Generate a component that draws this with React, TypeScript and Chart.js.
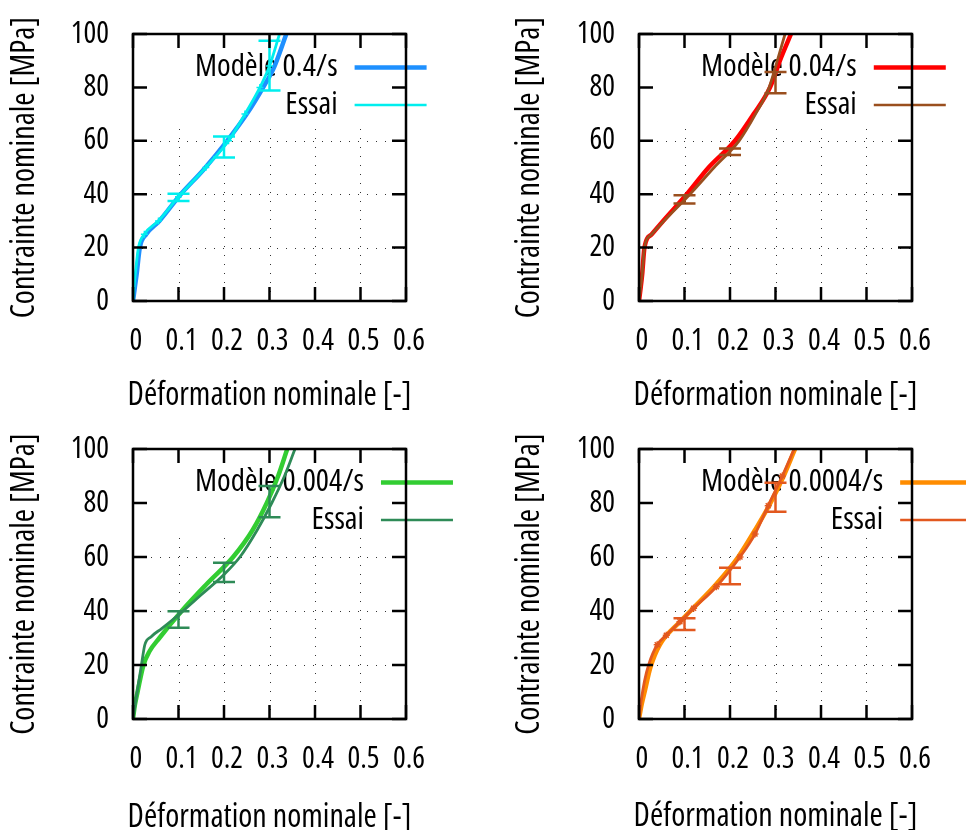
import React, { useEffect, useRef } from 'react';
import { Chart, registerables } from 'chart.js';

Chart.register(...registerables);

const FAMILY = "'Open Sans', 'DejaVu Sans', sans-serif";
const STRETCH = 'condensed';
const TICK_SIZE = 30;
const TITLE_SIZE = 32;
const KEY_SIZE = 31;

const xTickLabels = ['0', '0.1', '0.2', '0.3', '0.4', '0.5', '0.6'];
const yTickLabels = ['0', '20', '40', '60', '80', '100'];
const xTitle = 'Déformation nominale [-]';
const yTitle = 'Contrainte nominale [MPa]';
const essaiLabel = 'Essai';

// Panel 1 : 0.4/s
const model1Label = 'Modèle 0.4/s';
const model1X = [0, 0.004, 0.008, 0.015, 0.029, 0.058, 0.105, 0.154, 0.207, 0.25, 0.288, 0.31, 0.337];
const model1Y = [0, 5, 10, 20, 25, 30, 40, 49, 60, 70, 80.6, 87.5, 100];
const essai1X = [0, 0.002, 0.005, 0.012, 0.025, 0.056, 0.1, 0.16, 0.21, 0.246, 0.279, 0.3, 0.322];
const essai1Y = [0, 5, 10, 20, 25, 30, 39, 50, 60, 70, 80, 88, 100];
const err1X = [0.1, 0.2, 0.3];
const err1Low = [37.5, 53.7, 78.8];
const err1High = [40.2, 61.6, 97.5];

// Panel 2 : 0.04/s
const model2Label = 'Modèle 0.04/s';
const model2X = [0, 0.003, 0.007, 0.012, 0.028, 0.053, 0.105, 0.153, 0.211, 0.252, 0.288, 0.312, 0.334];
const model2Y = [0, 4, 10, 20, 25, 30, 40, 50, 60, 70, 80, 91, 100];
const essai2X = [0, 0.003, 0.007, 0.012, 0.028, 0.055, 0.112, 0.165, 0.22, 0.256, 0.286, 0.304, 0.321];
const essai2Y = [0, 4, 10, 20, 25, 30, 40, 50, 60, 70, 80, 90, 100];
const err2X = [0.1, 0.2, 0.3];
const err2Low = [36.5, 54.7, 77.8];
const err2High = [39.6, 57.1, 85.8];

// Panel 3 : 0.004/s
const model3Label = 'Modèle 0.004/s';
const model3X = [0, 0.004, 0.01, 0.023, 0.036, 0.058, 0.107, 0.162, 0.22, 0.263, 0.294, 0.319, 0.339];
const model3Y = [0, 5, 10, 20, 25, 30, 40, 50, 60, 70, 80, 90, 100];
const essai3X = [0, 0.01, 0.019, 0.026, 0.04, 0.063, 0.103, 0.15, 0.2, 0.235, 0.273, 0.305, 0.333, 0.356];
const essai3Y = [0, 11, 20.5, 27.5, 30.5, 33.5, 39, 46, 53.5, 60, 70, 80, 90, 100];
const err3X = [0.1, 0.2, 0.3];
const err3Low = [33.8, 50.7, 74.7];
const err3High = [39.9, 57.9, 86.3];

// Panel 4 : 0.0004/s
const model4Label = 'Modèle 0.0004/s';
const model4X = [0, 0.006, 0.013, 0.025, 0.046, 0.09, 0.113, 0.17, 0.218, 0.255, 0.289, 0.318, 0.343];
const model4Y = [0, 5.5, 10.5, 19, 27.5, 36, 40, 50, 60, 70, 80, 90, 100];
const essai4X = [0, 0.005, 0.012, 0.022, 0.04, 0.06, 0.09, 0.12, 0.17, 0.222, 0.255, 0.284, 0.315, 0.341];
const essai4Y = [0, 7, 14, 20.5, 27.5, 31, 36, 41, 49, 60, 68.5, 79, 90, 100];
const err4X = [0.1, 0.2, 0.3];
const err4Low = [33, 49.9, 76.8];
const err4High = [37.3, 56, 87.5];

type Panel = {
  left: number; top: number;
  yAxisWidth: number; xAxisHeight: number; padTop: number; padRight: number;
  yTitleX: number; xTitleGap: number;
  modelLabel: string; modelX: number[]; modelY: number[];
  essaiX: number[]; essaiY: number[];
  errX: number[]; errLow: number[]; errHigh: number[];
  modelColor: string; essaiColor: string;
  essaiMark: string | null;
};

const panels: Panel[] = [
  { left: 0, top: 0, yAxisWidth: 133, xAxisHeight: 114, padTop: 29, padRight: 77, yTitleX: 25, xTitleGap: 95,
    modelLabel: model1Label, modelX: model1X, modelY: model1Y, essaiX: essai1X, essaiY: essai1Y,
    errX: err1X, errLow: err1Low, errHigh: err1High, modelColor: '#1e90ff', essaiColor: '#00eeee', essaiMark: 'cross' },
  { left: 483, top: 0, yAxisWidth: 156, xAxisHeight: 114, padTop: 29, padRight: 54, yTitleX: 47, xTitleGap: 95,
    modelLabel: model2Label, modelX: model2X, modelY: model2Y, essaiX: essai2X, essaiY: essai2Y,
    errX: err2X, errLow: err2Low, errHigh: err2High, modelColor: '#ff0000', essaiColor: '#9a4f1e', essaiMark: null },
  { left: 0, top: 415, yAxisWidth: 133, xAxisHeight: 111, padTop: 31, padRight: 77, yTitleX: 25, xTitleGap: 99,
    modelLabel: model3Label, modelX: model3X, modelY: model3Y, essaiX: essai3X, essaiY: essai3Y,
    errX: err3X, errLow: err3Low, errHigh: err3High, modelColor: '#32cd32', essaiColor: '#2e8b57', essaiMark: null },
  { left: 483, top: 415, yAxisWidth: 156, xAxisHeight: 111, padTop: 32, padRight: 54, yTitleX: 47, xTitleGap: 98,
    modelLabel: model4Label, modelX: model4X, modelY: model4Y, essaiX: essai4X, essaiY: essai4Y,
    errX: err4X, errLow: err4Low, errHigh: err4High, modelColor: '#ff8c00', essaiColor: '#e2581f', essaiMark: 'star' },
];

const toPoints = (xs: number[], ys: number[]) => xs.map((x, i) => ({ x, y: ys[i] }));
const cssFont = (size: number) => `${STRETCH} ${size}px ${FAMILY}`;

function makeFramePlugin(p: Panel) {
  return {
    id: 'gnuplotFrame',
    beforeDatasetsDraw(chart: any) {
      const { ctx, chartArea: a, scales } = chart;
      const xs = scales.x, ys = scales.y;
      ctx.save();
      // dotted grid
      ctx.strokeStyle = 'rgba(0,0,0,0.8)';
      ctx.lineWidth = 1;
      ctx.setLineDash([1, 8]);
      xs.ticks.forEach((t: any) => {
        if (t.value <= xs.min || t.value >= xs.max) return;
        const px = Math.round(xs.getPixelForValue(t.value)) + 0.5;
        ctx.beginPath(); ctx.moveTo(px, a.bottom); ctx.lineTo(px, a.top); ctx.stroke();
      });
      ys.ticks.forEach((t: any) => {
        if (t.value <= ys.min || t.value >= ys.max) return;
        const py = Math.round(ys.getPixelForValue(t.value)) + 0.5;
        ctx.beginPath(); ctx.moveTo(a.left, py); ctx.lineTo(a.right, py); ctx.stroke();
      });
      ctx.setLineDash([]);
      // legend (opaque key)
      ctx.font = cssFont(KEY_SIZE);
      const labels = [p.modelLabel, essaiLabel];
      const maxW = Math.max(...labels.map((l) => ctx.measureText(l).width));
      const textRight = a.left + 62 + maxW;
      const rows = [a.top + 33.5, a.top + 71];
      const s0 = textRight + 17, s1 = textRight + 89;
      ctx.fillStyle = '#ffffff';
      ctx.fillRect(a.left + 2, a.top + 2, s1 + 4 - a.left - 2, rows[1] + 17 - a.top - 2);
      ctx.fillStyle = '#000000';
      ctx.textAlign = 'right';
      ctx.textBaseline = 'middle';
      ctx.fillText(labels[0], textRight, rows[0]);
      ctx.fillText(labels[1], textRight, rows[1]);
      ctx.lineCap = 'butt';
      ctx.strokeStyle = p.modelColor; ctx.lineWidth = 4.5;
      ctx.beginPath(); ctx.moveTo(s0, rows[0]); ctx.lineTo(s1, rows[0]); ctx.stroke();
      ctx.strokeStyle = p.essaiColor; ctx.lineWidth = 2.7;
      ctx.beginPath(); ctx.moveTo(s0, rows[1]); ctx.lineTo(s1, rows[1]); ctx.stroke();
      ctx.restore();
    },
    afterDatasetsDraw(chart: any) {
      const { ctx, chartArea: a, scales } = chart;
      const xs = scales.x, ys = scales.y;
      ctx.save();
      // error bars
      ctx.strokeStyle = p.essaiColor;
      ctx.lineWidth = 2.5;
      p.errX.forEach((ex, i) => {
        const px = xs.getPixelForValue(ex);
        const pl = ys.getPixelForValue(p.errLow[i]);
        const ph = ys.getPixelForValue(p.errHigh[i]);
        ctx.beginPath();
        ctx.moveTo(px, pl); ctx.lineTo(px, ph);
        ctx.moveTo(px - 11, pl); ctx.lineTo(px + 11, pl);
        ctx.moveTo(px - 11, ph); ctx.lineTo(px + 11, ph);
        ctx.stroke();
      });
      // border + inward mirrored ticks
      ctx.strokeStyle = '#000';
      ctx.lineWidth = 2.5;
      ctx.strokeRect(a.left, a.top, a.right - a.left, a.bottom - a.top);
      const tl = 14;
      ctx.beginPath();
      xs.ticks.forEach((t: any) => {
        const px = xs.getPixelForValue(t.value);
        ctx.moveTo(px, a.bottom); ctx.lineTo(px, a.bottom - tl);
        ctx.moveTo(px, a.top); ctx.lineTo(px, a.top + tl);
      });
      ys.ticks.forEach((t: any) => {
        const py = ys.getPixelForValue(t.value);
        ctx.moveTo(a.left, py); ctx.lineTo(a.left + tl, py);
        ctx.moveTo(a.right, py); ctx.lineTo(a.right - tl, py);
      });
      ctx.stroke();
      // axis titles
      ctx.fillStyle = '#000';
      ctx.font = cssFont(TITLE_SIZE);
      ctx.textAlign = 'center';
      ctx.textBaseline = 'middle';
      ctx.fillText(xTitle, (a.left + a.right) / 2, a.bottom + p.xTitleGap);
      ctx.translate(p.yTitleX, (a.top + a.bottom) / 2);
      ctx.rotate(-Math.PI / 2);
      ctx.fillText(yTitle, 0, 0);
      ctx.restore();
    },
  };
}

function PanelChart({ panel }: { panel: Panel }) {
  const ref = useRef<HTMLCanvasElement | null>(null);
  useEffect(() => {
    const p = panel;
    const tickFont = { family: FAMILY, size: TICK_SIZE, weight: STRETCH };
    const markRadius = (c: any) => {
      if (!p.essaiMark) return 0;
      const v = p.essaiY[c.dataIndex];
      return v >= 25 && v <= 95 ? 3.5 : 0;
    };
    const chart = new Chart(ref.current as HTMLCanvasElement, {
      type: 'scatter',
      data: {
        datasets: [
          {
            label: p.modelLabel,
            data: toPoints(p.modelX, p.modelY),
            showLine: true,
            borderColor: p.modelColor,
            backgroundColor: p.modelColor,
            borderWidth: 4.5,
            pointRadius: 0,
            cubicInterpolationMode: 'monotone',
            order: 1,
          },
          {
            label: essaiLabel,
            data: toPoints(p.essaiX, p.essaiY),
            showLine: true,
            borderColor: p.essaiColor,
            backgroundColor: p.essaiColor,
            borderWidth: 2.8,
            pointRadius: markRadius,
            pointStyle: p.essaiMark || 'circle',
            pointBorderWidth: 1.5,
            cubicInterpolationMode: 'monotone',
            order: 0,
          },
        ],
      } as any,
      options: {
        responsive: false,
        animation: false,
        devicePixelRatio: 1,
        events: [],
        layout: { padding: { top: p.padTop, right: p.padRight, left: 0, bottom: 0 } },
        plugins: { legend: { display: false }, tooltip: { enabled: false } },
        scales: {
          x: {
            type: 'linear',
            min: 0,
            max: 0.6,
            grid: { display: false },
            border: { display: false },
            ticks: {
              stepSize: 0.1,
              autoSkip: false,
              maxRotation: 0,
              padding: 14,
              labelOffset: 3,
              color: '#000',
              font: tickFont,
              callback: (_v: any, i: number) => xTickLabels[i],
            },
            title: { display: false },
            afterFit: (s: any) => { s.height = p.xAxisHeight; },
          },
          y: {
            type: 'linear',
            min: 0,
            max: 100,
            grid: { display: false },
            border: { display: false },
            ticks: {
              stepSize: 20,
              autoSkip: false,
              padding: 16,
              color: '#000',
              font: tickFont,
              callback: (_v: any, i: number) => yTickLabels[i],
            },
            title: { display: false },
            afterFit: (s: any) => { s.width = p.yAxisWidth; },
          },
        },
      } as any,
      plugins: [makeFramePlugin(p)],
    });
    return () => chart.destroy();
  }, [panel]);
  return (
    <canvas
      ref={ref}
      width={483}
      height={415}
      style={{ position: 'absolute', left: panel.left, top: panel.top, width: 483, height: 415 }}
    />
  );
}

export default function App() {
  return (
    <div style={{ position: 'absolute', left: 0, top: 0, width: 966, height: 830, background: '#fff', overflow: 'hidden' }}>
      {panels.map((p, i) => (
        <PanelChart key={i} panel={p} />
      ))}
    </div>
  );
}
